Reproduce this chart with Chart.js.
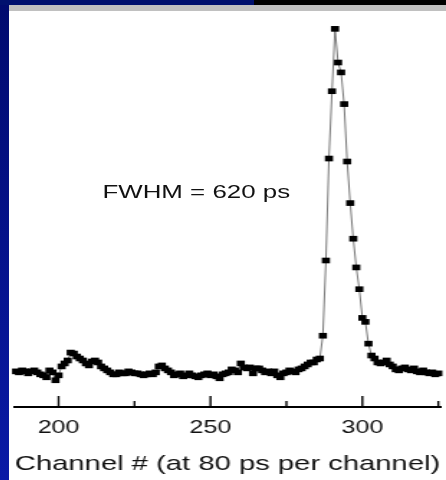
<!DOCTYPE html>
<html>
<head>
<meta charset="utf-8">
<script src="https://cdn.jsdelivr.net/npm/chart.js@4/dist/chart.umd.min.js"></script>
<style>
  html, body { margin: 0; padding: 0; background: #fff; }
  body { width: 446px; height: 480px; overflow: hidden; position: relative; font-family: "Liberation Sans", Arial, sans-serif; }
  #left-strip { position: absolute; left: 0; top: 0; width: 9px; height: 480px; background: linear-gradient(#000a6e, #0a1aa6); }
  #top-strip { position: absolute; left: 0; top: 0; width: 446px; height: 5px; background: linear-gradient(to right, #00106e 0, #00106e 57%, #000 57%, #000 100%); }
  #gray-band { position: absolute; left: 9px; top: 5px; width: 437px; height: 6px; background: #c0c0c0; }
  /* the source image was stretched sideways, so the whole plot is too */
  #wrap { position: absolute; left: 9px; top: 11px; width: 304px; height: 469px; transform: scaleX(1.4375); transform-origin: 0 0; }
  #fwhm { position: absolute; left: 65px; top: 172px; font-size: 18px; line-height: 18px; color: #111; white-space: nowrap; }
</style>
</head>
<body>
<div id="left-strip"></div>
<div id="top-strip"></div>
<div id="gray-band"></div>
<div id="wrap">
  <canvas id="chart" width="304" height="469"></canvas>
  <div id="fwhm">FWHM = 620 ps</div>
</div>
<script>
// Data (counts per channel, arbitrary units)
const firstChannel = 186;
const counts = [
  36, 35, 37, 36, 34, 36, 37, 35, 33, 32, 30, 37, 35, 27, 32,
  41, 44, 47, 55, 54, 51, 49, 47, 44, 42, 46, 47, 45, 41, 39, 37,
  35, 33, 33, 35, 34, 34, 36, 35, 34, 34, 33, 32, 33, 34, 33, 35, 41, 42, 39, 37,
  35, 32, 33, 34, 31, 32, 34, 32, 31, 30, 32, 33, 34, 32,
  33, 31, 29, 33, 34, 35, 38, 37, 35, 44, 40, 39, 40, 34, 39, 39, 37, 35, 36, 34,
  36, 32, 30, 34, 35, 37, 36, 35, 38, 39, 41, 43, 45, 45, 48, 49,
  72, 148, 251, 319, 382, 348, 338, 306, 248, 206, 170, 141, 119, 90, 86, 64, 52, 49, 45, 44,
  45, 47, 43, 41, 38, 37, 39, 40, 38, 37, 39, 36, 35, 37, 35, 34, 35, 33, 34
];
const majorTicks = [200, 250, 300];
const minorTicks = [225, 275, 325];
const xLabel = 'Channel # (at 80 ps per channel)';

const points = counts.map((c, i) => ({ x: firstChannel + i, y: c }));

// tick marks point up into the plot
const innerTicks = {
    id: 'innerTicks',
    afterDraw(chart) {
        const ctx = chart.ctx;
        const xs = chart.scales.x;
        const y0 = chart.chartArea.bottom;
        ctx.save();
        ctx.strokeStyle = '#000';
        ctx.lineWidth = 1.4;
        const mark = (v, len) => {
            const x = xs.getPixelForValue(v);
            ctx.beginPath();
            ctx.moveTo(x, y0);
            ctx.lineTo(x, y0 - len);
            ctx.stroke();
        };
        majorTicks.forEach(v => mark(v, 11));
        minorTicks.forEach(v => mark(v, 6));
        ctx.restore();
    }
};

const ctx = document.getElementById('chart').getContext('2d');
new Chart(ctx, {
    type: 'line',
    data: {
        datasets: [{
            data: points,
            borderColor: '#555',
            borderWidth: 0.8,
            tension: 0,
            pointStyle: 'rect',
            pointRadius: 4,
            pointBackgroundColor: '#000',
            pointBorderWidth: 0,
            clip: false
        }]
    },
    options: {
        responsive: false,
        animation: false,
        layout: { padding: 0 },
        plugins: { legend: { display: false }, tooltip: { enabled: false } },
        scales: {
            x: {
                type: 'linear',
                min: 185.58,
                max: 325.64,
                afterBuildTicks: (scale) => { scale.ticks = majorTicks.map(v => ({ value: v })); },
                afterFit: (scale) => { scale.height = 73; },
                grid: { display: true, drawOnChartArea: false, drawTicks: false },
                border: { display: true, color: '#000', width: 2 },
                ticks: {
                    padding: 11,
                    color: '#111',
                    font: { family: 'Liberation Sans', size: 17.5 }
                },
                title: {
                    display: true,
                    text: xLabel,
                    color: '#111',
                    font: { family: 'Liberation Sans', size: 20.6 },
                    padding: { top: 0, bottom: 3 }
                }
            },
            y: {
                display: false,
                min: 0,
                max: 396
            }
        }
    },
    plugins: [innerTicks]
});
</script>
</body>
</html>
